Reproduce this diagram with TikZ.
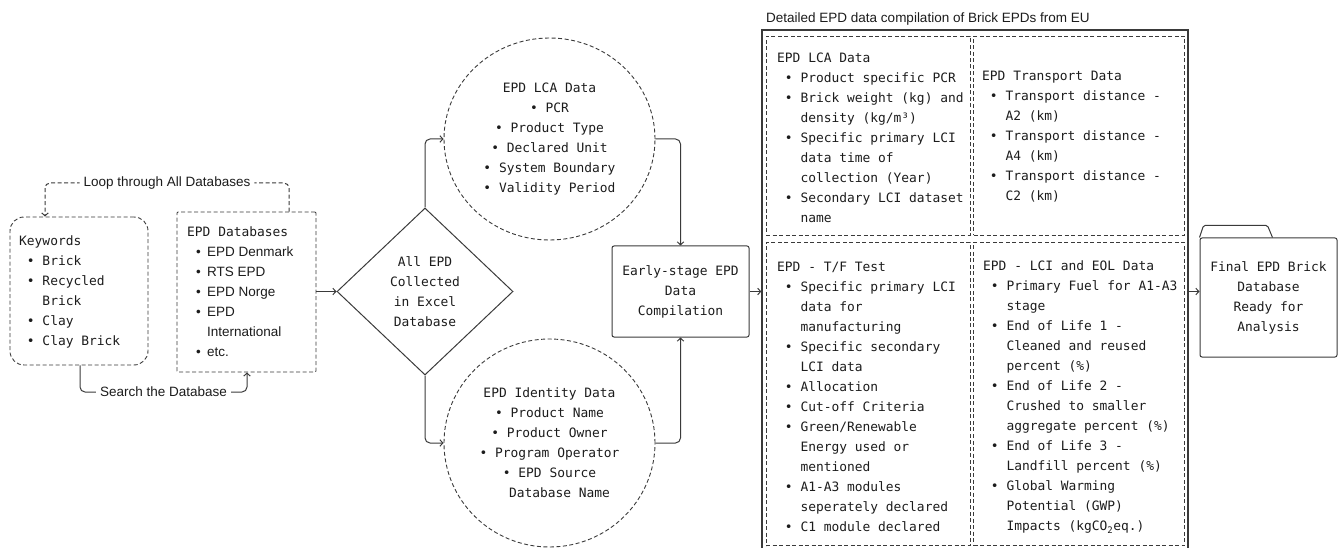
\documentclass[tikz,border=0pt]{standalone}
\usepackage{fontspec}
\setmainfont{Liberation Sans}
\setsansfont{Liberation Sans}
\setmonofont{DejaVu Sans Mono}
\usetikzlibrary{shapes.geometric,arrows.meta}
\definecolor{linec}{HTML}{3A3A3A}
\definecolor{txtc}{HTML}{1C1C1C}
% bullet and continuation indents for monospaced lists
\newcommand\bu{\phantom{x}•\phantom{x}}
\newcommand\ct{\phantom{x•x}}
% bullet and continuation indents for sans lists
\newcommand\sbu{\hspace*{9pt}\makebox[11pt][l]{•}}
\newcommand\sct{\hspace*{20pt}}
\newcommand\sline[1]{{\sffamily\fontsize{13.5}{20}\selectfont #1}}
\tikzset{
  mono/.style={font=\ttfamily\fontsize{12.9}{20}\selectfont, text=txtc, inner sep=0pt},
  sans/.style={font=\sffamily\fontsize{13.5}{20}\selectfont, text=txtc},
  dashedbox/.style={draw=linec, line width=0.9pt, dash pattern=on 4pt off 2.5pt, inner sep=0pt},
  solidbox/.style={draw=linec, line width=1pt, inner sep=0pt},
  link/.style={draw=linec, line width=1pt, rounded corners=5pt, -{Straight Barb[length=3pt,width=6.5pt]}},
  tag/.style={sans, fill=white, inner xsep=4pt, inner ysep=1pt},
}
\begin{document}
\begin{tikzpicture}[x=1pt, y=-1pt]
\useasboundingbox (0,0) rectangle (1342,548);

% search keywords
\node[dashedbox, rounded corners=14pt, minimum width=138pt, minimum height=148pt] (kw) at (79,291) {};
\node[mono, anchor=west, align=left] (kwT) at (19,292)
  {Keywords\\\bu Brick\\\bu Recycled\\\ct Brick\\\bu Clay\\\bu Clay Brick};

% source databases
\node[dashedbox, rounded corners=1pt, minimum width=139pt, minimum height=160pt] (db) at (246.5,292) {};
\node[mono, anchor=west, align=left] (dbT) at (187,292)
  {EPD Databases\\\sline{\sbu EPD Denmark}\\\sline{\sbu RTS EPD}\\\sline{\sbu EPD Norge}\\
   \sline{\sbu EPD}\\\sline{\sct International}\\\sline{\sbu etc.}};

% collection decision
\node[draw=linec, line width=1pt, diamond, minimum width=176pt, minimum height=167pt, inner sep=0pt] (dia) at (425,291.5) {};
\node[mono, align=center] (diaT) at (dia.center) {All EPD\\Collected\\in Excel\\Database};

% data groups
\node[dashedbox, ellipse, minimum width=211pt, minimum height=202pt, mono, align=center] (lca) at (549.5,139)
  {EPD LCA Data\\• PCR\\• Product Type\\• Declared Unit\\• System Boundary\\• Validity Period};
\node[dashedbox, ellipse, minimum width=211pt, minimum height=208pt, mono, align=center] (idn) at (549.5,443)
  {EPD Identity Data\\• Product Name\\• Product Owner\\• Program Operator\\• EPD Source\\\hspace*{20pt}Database Name};

% early compilation
\node[solidbox, rounded corners=2pt, minimum width=137pt, minimum height=91pt, mono, align=center] (early) at (680.5,291.5)
  {Early-stage EPD\\Data\\Compilation};

% detailed compilation (frame runs past the lower edge)
\node[draw=linec, line width=1.3pt, minimum width=426pt, minimum height=521pt, inner sep=0pt] (outer) at (975,290.5) {};
\node[sans, anchor=base west, inner sep=0pt] (title) at (766,23) {Detailed EPD data compilation of Brick EPDs from EU};

\node[dashedbox, minimum width=204pt, minimum height=199pt] (qa) at (868,135.5) {};
\node[dashedbox, minimum width=211pt, minimum height=199pt] (qb) at (1079,135.5) {};
\node[dashedbox, minimum width=204pt, minimum height=303pt] (qc) at (868,394) {};
\node[dashedbox, minimum width=211pt, minimum height=303pt] (qd) at (1079,394) {};

\node[mono, anchor=west, align=left] (qaT) at (777,137.5)
  {EPD LCA Data\\\bu Product specific PCR\\\bu Brick weight (kg) and\\\ct density (kg/m³)\\
   \bu Specific primary LCI\\\ct data time of\\\ct collection (Year)\\\bu Secondary LCI dataset\\\ct name};
\node[mono, anchor=west, align=left] (qbT) at (982,137)
  {EPD Transport Data\\\bu Transport distance -\\\ct A2 (km)\\\bu Transport distance -\\\ct A4 (km)\\
   \bu Transport distance -\\\ct C2 (km)};
\node[mono, anchor=west, align=left] (qcT) at (777,397)
  {EPD - T/F Test\\\bu Specific primary LCI\\\ct data for\\\ct manufacturing\\\bu Specific secondary\\
   \ct LCI data\\\bu Allocation\\\bu Cut-off Criteria\\\bu Green/Renewable\\\ct Energy used or\\
   \ct mentioned\\\bu A1-A3 modules\\\ct seperately declared\\\bu C1 module declared};
\node[mono, anchor=west, align=left] (qdT) at (983,397)
  {EPD - LCI and EOL Data\\\bu Primary Fuel for A1-A3\\\ct stage\\\bu End of Life 1 -\\
   \ct Cleaned and reused\\\ct percent (\%)\\\bu End of Life 2 -\\\ct Crushed to smaller\\
   \ct aggregate percent (\%)\\\bu End of Life 3 -\\\ct Landfill percent (\%)\\
   \bu Global Warming\\\ct Potential (GWP)\\\ct Impacts (kgCO\textsubscript{2}eq.)};

% final database (folder)
\node[solidbox, rounded corners=2pt, minimum width=137pt, minimum height=119pt, mono, align=center] (final) at (1268.5,297.5)
  {Final EPD Brick\\Database\\Ready for\\Analysis};
\draw[draw=linec, line width=1pt, rounded corners=1.5pt] (final.north west) -- ++(4,-12) -- ++(64,0) -- ++(5,12);

% connectors
\coordinate (loopR) at (289,183);
\coordinate (loopL) at (45,183);
\draw[link, dash pattern=on 4pt off 2.5pt] (db.north -| loopR) -- (loopR)
  -- node[tag] {Loop through All Databases} (loopL) -- (loopL |- kw.north);

\coordinate (srchL) at (80,392);
\coordinate (srchR) at (247,392);
\draw[link] (kw.south -| srchL) -- (srchL)
  -- node[tag] {Search the Database} (srchR) -- (srchR |- db.south);

\draw[link] (db.east |- dia.west) -- (dia.west);
\draw[link] (dia.north) |- (lca.west);
\draw[link] (dia.south) |- (idn.west);
\draw[link] (lca.east) -| (early.north);
\draw[link] (idn.east) -| (early.south);
\draw[link] (early.east) -- (early.east -| outer.west);
\draw[link] (outer.east |- early.east) -- (final.west |- early.east);
\end{tikzpicture}
\end{document}
